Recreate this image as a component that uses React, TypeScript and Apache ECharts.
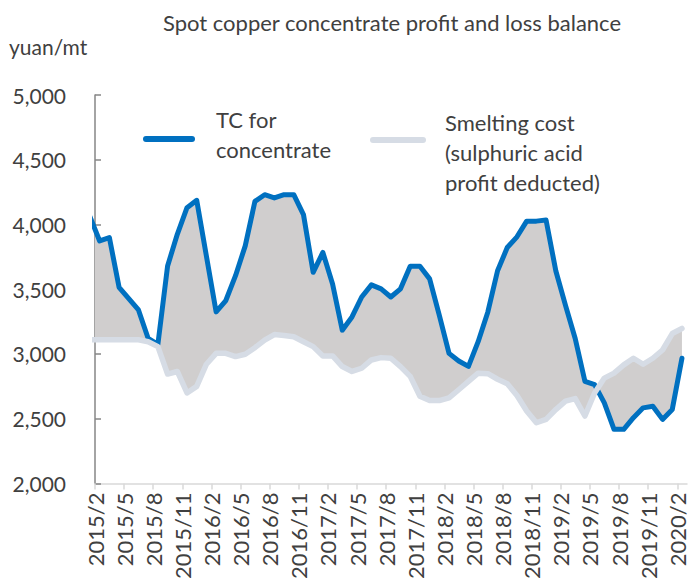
import React, { useEffect, useRef } from 'react';
import * as echarts from 'echarts';

// Monthly observations (mid-month); 2015/1 is only partly visible at the left edge
const months = [
  '2015/1', '2015/2', '2015/3', '2015/4', '2015/5', '2015/6', '2015/7', '2015/8', '2015/9', '2015/10', '2015/11', '2015/12',
  '2016/1', '2016/2', '2016/3', '2016/4', '2016/5', '2016/6', '2016/7', '2016/8', '2016/9', '2016/10', '2016/11', '2016/12',
  '2017/1', '2017/2', '2017/3', '2017/4', '2017/5', '2017/6', '2017/7', '2017/8', '2017/9', '2017/10', '2017/11', '2017/12',
  '2018/1', '2018/2', '2018/3', '2018/4', '2018/5', '2018/6', '2018/7', '2018/8', '2018/9', '2018/10', '2018/11', '2018/12',
  '2019/1', '2019/2', '2019/3', '2019/4', '2019/5', '2019/6', '2019/7', '2019/8', '2019/9', '2019/10', '2019/11', '2019/12',
  '2020/1', '2020/2',
];

const tickLabels = [
  '2015/2', '2015/5', '2015/8', '2015/11', '2016/2', '2016/5', '2016/8', '2016/11',
  '2017/2', '2017/5', '2017/8', '2017/11', '2018/2', '2018/5', '2018/8', '2018/11',
  '2019/2', '2019/5', '2019/8', '2019/11', '2020/2',
];

const tcConcentrate = [
  4060,
  3873, 3899, 3515, 3427, 3340, 3120, 3075, 3680, 3924, 4130, 4187,
  3756, 3325, 3413, 3605, 3835, 4179, 4230, 4205, 4230, 4230, 4077, 3631,
  3784, 3541, 3184, 3286, 3440, 3534, 3503, 3440, 3503, 3677, 3677, 3580,
  3299, 3005, 2946, 2904, 3095, 3325, 3643, 3822, 3905, 4026, 4026, 4034,
  3643, 3375, 3120, 2789, 2763, 2623, 2418, 2418, 2508, 2584, 2597, 2495,
  2571, 2967,
];

const smeltingCost = [
  3110,
  3110, 3110, 3110, 3110, 3110, 3095, 3057, 2845, 2865, 2699, 2750,
  2921, 3005, 3005, 2980, 2998, 3049, 3107, 3150, 3143, 3133, 3095, 3057,
  2985, 2985, 2903, 2865, 2890, 2954, 2972, 2967, 2903, 2827, 2674, 2640,
  2640, 2661, 2724, 2789, 2852, 2848, 2805, 2770, 2680, 2560, 2469, 2495,
  2571, 2636, 2656, 2521, 2699, 2814, 2852, 2916, 2967, 2921, 2967, 3031,
  3158, 3197,
];

const TEXT = '#404040';
const FONT = 'Lato';
const DAY_OFFSET = 0.48; // observations sit mid-month
const xPos = months.map((_, i) => i - 1 + DAY_OFFSET);
const tickValues = tickLabels.map((_, i) => i * 3);

export default function App() {
  const ref = useRef<HTMLDivElement>(null);
  useEffect(() => {
    document.body.style.margin = '0';
    const chart = echarts.init(ref.current!, undefined, { renderer: 'svg' });
    const tcData = xPos.map((x, i) => [x, tcConcentrate[i]]);
    const smData = xPos.map((x, i) => [x, smeltingCost[i]]);

    chart.setOption({
      animation: false,
      title: {
        text: 'Spot copper concentrate profit and loss balance',
        left: 387,
        top: 6,
        textAlign: 'center',
        textStyle: { color: TEXT, fontFamily: FONT, fontSize: 22, fontWeight: 'normal' },
      },
      grid: { left: 95, right: 6, top: 95, bottom: 95, containLabel: false },
      xAxis: {
        type: 'value',
        min: 0,
        max: 61,
        interval: 3,
        axisLine: { show: true, lineStyle: { color: '#D9D9D9', width: 1.5 } },
        axisTick: { show: true, length: 6, lineStyle: { color: '#D9D9D9', width: 1.5 }, customValues: tickValues },
        axisLabel: {
          customValues: tickValues,
          rotate: 90,
          margin: 9,
          color: TEXT,
          fontFamily: FONT,
          fontSize: 22,
          formatter: (v: number) => (v % 3 === 0 && tickLabels[v / 3] ? tickLabels[v / 3] : ''),
        },
        splitLine: { show: false },
      },
      yAxis: {
        type: 'value',
        min: 2000,
        max: 5000,
        interval: 500,
        axisLine: { show: true, lineStyle: { color: '#868686', width: 1.5 } },
        axisTick: { show: true, inside: true, length: 6, lineStyle: { color: '#868686', width: 1.5 } },
        axisLabel: {
          margin: 29,
          color: TEXT,
          fontFamily: FONT,
          fontSize: 21,
          formatter: (v: number) => v.toLocaleString('en-US'),
        },
        splitLine: { show: false },
      },
      graphic: [
        { type: 'text', left: 9, top: 36, style: { text: 'yuan/mt', fill: TEXT, font: `21px ${FONT}` } },
        {
          type: 'line',
          shape: { x1: 146, y1: 139, x2: 192, y2: 139 },
          style: { stroke: '#0070C0', lineWidth: 6, lineCap: 'round' },
        },
        {
          type: 'text',
          left: 216,
          top: 104,
          style: { text: 'TC for\nconcentrate', fill: TEXT, font: `22px ${FONT}`, lineHeight: 30 },
        },
        {
          type: 'line',
          shape: { x1: 373, y1: 140, x2: 423, y2: 140 },
          style: { stroke: '#D6DCE5', lineWidth: 6, lineCap: 'round' },
        },
        {
          type: 'text',
          left: 445,
          top: 107,
          style: {
            text: 'Smelting cost\n(sulphuric acid\nprofit deducted)',
            fill: TEXT,
            font: `22px ${FONT}`,
            lineHeight: 30,
          },
        },
      ],
      series: [
        {
          type: 'custom',
          name: 'band',
          silent: true,
          z: 1,
          data: [[30, 3000]],
          renderItem: (_params: any, api: any) => {
            const t = (0 - xPos[0]) / (xPos[1] - xPos[0]);
            const bStart = tcConcentrate[0] + (tcConcentrate[1] - tcConcentrate[0]) * t;
            const gStart = smeltingCost[0] + (smeltingCost[1] - smeltingCost[0]) * t;
            const pts: number[][] = [api.coord([0, bStart])];
            for (let i = 1; i < xPos.length; i++) pts.push(api.coord([xPos[i], tcConcentrate[i]]));
            for (let i = xPos.length - 1; i >= 1; i--) pts.push(api.coord([xPos[i], smeltingCost[i]]));
            pts.push(api.coord([0, gStart]));
            return { type: 'polygon', shape: { points: pts }, style: { fill: '#D0CECE' } };
          },
        },
        {
          type: 'line',
          name: 'TC for concentrate',
          data: tcData,
          showSymbol: false,
          symbol: 'none',
          z: 3,
          lineStyle: { color: '#0070C0', width: 5, cap: 'round', join: 'round' },
        },
        {
          type: 'line',
          name: 'Smelting cost (sulphuric acid profit deducted)',
          data: smData,
          showSymbol: false,
          symbol: 'none',
          z: 4,
          lineStyle: { color: '#D6DCE5', width: 5.5, cap: 'round', join: 'round' },
        },
      ],
    });
    return () => chart.dispose();
  }, []);
  return <div ref={ref} style={{ width: 693, height: 582 }} />;
}
